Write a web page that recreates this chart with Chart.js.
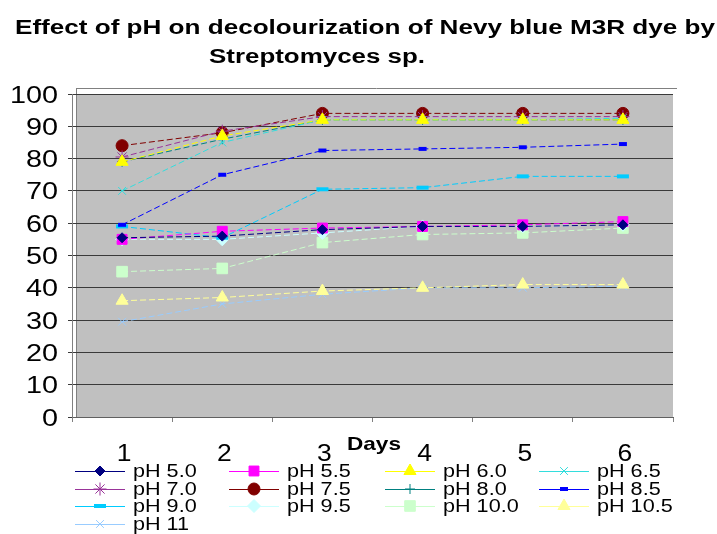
<!DOCTYPE html>
<html>
<head>
<meta charset="utf-8">
<script src="https://cdn.jsdelivr.net/npm/chart.js@4.4.1/dist/chart.umd.min.js"></script>
<style>
  html, body { margin: 0; padding: 0; background: #ffffff; }
  #wrap { width: 717px; height: 534px; }
</style>
</head>
<body>
<div id="wrap"><canvas id="c" width="717" height="534"></canvas></div>
<script>
// ---- data ----
const days = ['1', '2', '3', '4', '5', '6'];
const yTickValues = [0, 10, 20, 30, 40, 50, 60, 70, 80, 90, 100];
const seriesNames = ['pH 5.0', 'pH 5.5', 'pH 6.0', 'pH 6.5', 'pH 7.0', 'pH 7.5', 'pH 8.0', 'pH 8.5', 'pH 9.0', 'pH 9.5', 'pH 10.0', 'pH 10.5', 'pH 11'];
const ph50  = [55.5, 56, 58, 59, 59, 59.5];
const ph55  = [55, 57.5, 58.5, 59, 59.5, 60.5];
const ph60  = [79, 87, 92, 92, 92, 92];
const ph65  = [70, 85, 92, 92, 92, 92.5];
const ph70  = [80.5, 88.5, 93, 93, 93, 93];
const ph75  = [84, 88, 94, 94, 94, 94];
const ph80  = [79, 86, 92, 92, 92, 92];
const ph85  = [59.5, 75, 82.5, 83, 83.5, 84.5];
const ph90  = [59, 55.5, 70.5, 71, 74.5, 74.5];
const ph95  = [55, 55, 57, 59, 59, 59.5];
const ph100 = [45, 46, 54, 56.5, 57, 58.5];
const ph105 = [36, 37, 39, 40, 41, 41];
const ph110 = [29.5, 35, 38, 40, 40, 40.5];
const titleLines = ['Effect of pH on decolourization of Nevy blue M3R dye by', 'Streptomyces sp.'];
const xTitle = 'Days';

// ---- styles ----
const seriesValues = [ph50, ph55, ph60, ph65, ph70, ph75, ph80, ph85, ph90, ph95, ph100, ph105, ph110];
const styles = [
  { c: '#000080', ps: 'rectRot',  r: 5,   bw: 1 },
  { c: '#FF00FF', ps: 'rect',     r: 7,   bw: 1 },
  { c: '#FFFF00', ps: 'triangle', r: 7,   bw: 1 },
  { c: '#33DDDD', ps: 'crossRot', r: 5.5, bw: 1 },
  { c: '#993399', ps: 'star',     r: 6.5, bw: 1 },
  { c: '#800000', ps: 'circle',   r: 6,   bw: 1 },
  { c: '#008080', ps: 'cross',    r: 5,   bw: 1 },
  { c: '#0000FF', ps: 'line',     r: 4,   bw: 4 },
  { c: '#00CCFF', ps: 'line',     r: 6,   bw: 4 },
  { c: '#CCFFFF', ps: 'rectRot',  r: 6.5, bw: 1 },
  { c: '#CCFFCC', ps: 'rect',     r: 7.5, bw: 1 },
  { c: '#FFFF99', ps: 'triangle', r: 7,   bw: 1 },
  { c: '#99CCFF', ps: 'crossRot', r: 5.5, bw: 1 }
];

const datasets = seriesNames.map((name, i) => ({
  label: name,
  data: seriesValues[i],
  borderColor: styles[i].c,
  backgroundColor: styles[i].c,
  borderWidth: 1,
  borderDash: [6, 3],
  tension: 0,
  fill: false,
  pointStyle: styles[i].ps,
  pointRadius: styles[i].r,
  pointBorderWidth: styles[i].bw,
  pointBackgroundColor: styles[i].c,
  pointBorderColor: styles[i].c
}));

const FONT = "'Liberation Sans', Arial, sans-serif";

function sText(ctx, str, x, y, font, sx, align) {
  ctx.save();
  ctx.font = font;
  const w = ctx.measureText(str).width * sx;
  let x0 = x;
  if (align === 'center') x0 = x - w / 2;
  else if (align === 'right') x0 = x - w;
  ctx.translate(x0, y);
  ctx.scale(sx, 1);
  ctx.textAlign = 'left';
  ctx.textBaseline = 'alphabetic';
  ctx.fillStyle = '#000000';
  ctx.fillText(str, 0, 0);
  ctx.restore();
}
function fitText(ctx, str, x1, x2, y, font) {
  ctx.save();
  ctx.font = font;
  const w = ctx.measureText(str).width;
  const sx = (x2 - x1) / w;
  ctx.translate(x1, y);
  ctx.scale(sx, 1);
  ctx.textAlign = 'left';
  ctx.textBaseline = 'alphabetic';
  ctx.fillStyle = '#000000';
  ctx.fillText(str, 0, 0);
  ctx.restore();
}

const bgPlugin = {
  id: 'bg',
  beforeDraw(chart) {
    const { ctx, chartArea: a } = chart;
    ctx.save();
    ctx.fillStyle = '#ffffff';
    ctx.fillRect(0, 0, chart.width, chart.height);
    ctx.fillStyle = '#C0C0C0';
    ctx.fillRect(a.left + 4, a.top, a.right - a.left - 4, a.bottom - a.top);
    ctx.strokeStyle = '#808080';
    ctx.lineWidth = 1;
    ctx.beginPath();
    ctx.moveTo(a.left + 4, a.top - 5.5);
    ctx.lineTo(a.right + 4, a.top - 5.5);
    ctx.moveTo(a.left + 4.5, a.top - 6);
    ctx.lineTo(a.left + 4.5, a.bottom);
    ctx.stroke();
    ctx.restore();
  }
};

const textPlugin = {
  id: 'texts',
  afterDraw(chart) {
    const ctx = chart.ctx;
    const ys = chart.scales.y, xs = chart.scales.x;
    // y tick labels
    yTickValues.forEach(v => {
      const py = ys.getPixelForValue(v);
      sText(ctx, String(v), 58, py + 8.5, '24px ' + FONT, 1.2, 'right');
    });
    // x tick labels
    days.forEach((d, i) => {
      const px = xs.getPixelForValue(i);
      sText(ctx, d, px + 2, 461, '23px ' + FONT, 1.15, 'center');
    });
    // axis title
    sText(ctx, xTitle, 374, 450, 'bold 18.5px ' + FONT, 1.22, 'center');
    // chart title
    fitText(ctx, titleLines[0], 15, 715, 34, 'bold 20px ' + FONT);
    fitText(ctx, titleLines[1], 209, 425, 63, 'bold 20px ' + FONT);
    // legend
    const colX = [133, 287, 443, 597];
    const rowY = [477, 495, 512, 530];
    chart.data.datasets.forEach((ds, i) => {
      const col = i % 4, row = Math.floor(i / 4);
      const tx = colX[col], by = rowY[row];
      const cy = by - 6;
      ctx.save();
      ctx.strokeStyle = ds.borderColor;
      ctx.lineWidth = 1;
      ctx.beginPath();
      ctx.moveTo(tx - 58, cy + 0.5);
      ctx.lineTo(tx - 8, cy + 0.5);
      ctx.stroke();
      ctx.fillStyle = ds.pointBackgroundColor;
      ctx.strokeStyle = ds.pointBorderColor;
      ctx.lineWidth = ds.pointBorderWidth;
      if (Chart.helpers && Chart.helpers.drawPoint) {
        Chart.helpers.drawPoint(ctx, { pointStyle: ds.pointStyle, radius: ds.pointRadius, rotation: 0, borderWidth: ds.pointBorderWidth }, tx - 33, cy);
      } else {
        ctx.beginPath(); ctx.arc(tx - 33, cy, ds.pointRadius, 0, Math.PI * 2); ctx.fill();
      }
      ctx.restore();
      sText(ctx, ds.label, tx, by, '18px ' + FONT, 1.2, 'left');
    });
  }
};

new Chart(document.getElementById('c'), {
  type: 'line',
  data: { labels: days, datasets: datasets },
  options: {
    responsive: false,
    animation: false,
    devicePixelRatio: 1,
    layout: { padding: { left: 0, top: 94, right: 44, bottom: 97 } },
    plugins: {
      legend: { display: false },
      title: { display: false },
      tooltip: { enabled: false }
    },
    scales: {
      x: {
        type: 'category',
        offset: true,
        grid: { drawOnChartArea: false, offset: true, tickLength: 5, color: '#808080' },
        border: { color: '#606060' },
        ticks: { display: true, color: 'rgba(0,0,0,0)', font: { size: 1 } },
        afterFit(s) { s.height = 20; }
      },
      y: {
        min: 0,
        max: 100,
        ticks: { stepSize: 10, color: 'rgba(0,0,0,0)', font: { size: 1 } },
        grid: { color: '#3a3a3a', tickLength: 4, lineWidth: 1 },
        border: { color: '#808080' },
        afterFit(s) { s.width = 72; }
      }
    }
  },
  plugins: [bgPlugin, textPlugin]
});
</script>
</body>
</html>
